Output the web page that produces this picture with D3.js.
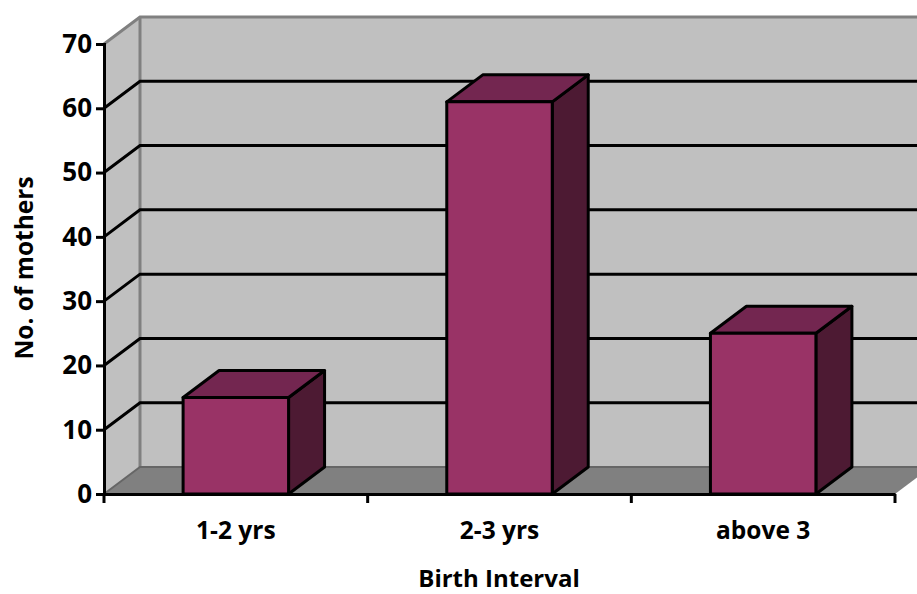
<!DOCTYPE html>
<html>
<head>
<meta charset="utf-8">
<script src="https://cdn.jsdelivr.net/npm/d3@7"></script>
<style>
html,body{margin:0;padding:0;background:#fff}
svg{display:block}
text{font-family:"Open Sans",sans-serif;font-weight:700;fill:#000}
</style>
</head>
<body>
<svg id="chart" width="917" height="594"></svg>
<script>
const categories = ["1-2 yrs", "2-3 yrs", "above 3"];
const mothers = [15, 61, 25];
const valueTicks = [0, 10, 20, 30, 40, 50, 60, 70];
const xTitle = "Birth Interval";
const yTitle = "No. of mothers";

const depthX = 36, depthY = -27;
const lineWidth = 3;
const svg = d3.select("#chart");

const x = d3.scaleBand().domain(categories).range([104, 895]).paddingInner(0.6).paddingOuter(0.3);
const y = d3.scaleLinear().domain([0, 70]).range([494, 44]);
const [x0, x1] = x.range();
const back = (px, py) => [px + depthX, py + depthY];
const poly = pts => pts.map(p => p.join(",")).join(" ");

// Walls and floor of the 3-D plot box
const g = svg.append("g");
g.append("polygon").attr("points", poly([[x0, y(70)], back(x0, y(70)), back(x0, y(0)), [x0, y(0)]]))
  .attr("fill", "#c0c0c0");
g.append("polygon").attr("points", poly([back(x0, y(70)), back(x1, y(70)), back(x1, y(0)), back(x0, y(0))]))
  .attr("fill", "#c0c0c0");
g.append("polygon").attr("points", poly([[x0, y(0)], [x1, y(0)], back(x1, y(0)), back(x0, y(0))]))
  .attr("fill", "#808080");

// Grey outline of the walls
g.append("polyline").attr("points", poly([[x0, y(70)], back(x0, y(70)), back(x1, y(70))]))
  .attr("fill", "none").attr("stroke", "#808080").attr("stroke-width", lineWidth);
g.append("line").attr("x1", back(x0, 0)[0]).attr("x2", back(x0, 0)[0])
  .attr("y1", back(x0, y(70))[1]).attr("y2", back(x0, y(0))[1])
  .attr("stroke", "#808080").attr("stroke-width", lineWidth);
g.append("polyline").attr("points", poly([[x0, y(0)], back(x0, y(0)), back(x1, y(0))]))
  .attr("fill", "none").attr("stroke", "#666").attr("stroke-width", 2);

// Gridlines run up the left wall and across the back wall
g.selectAll("polyline.grid").data(valueTicks.filter(v => v > 0 && v < 70)).join("polyline")
  .attr("class", "grid")
  .attr("points", v => poly([[x0, y(v)], back(x0, y(v)), back(x1, y(v))]))
  .attr("fill", "none").attr("stroke", "#000").attr("stroke-width", lineWidth);

// Extruded bars
const bars = svg.append("g").selectAll("g").data(categories).join("g");
const edge = sel => sel.attr("stroke", "#000").attr("stroke-width", lineWidth).attr("stroke-linejoin", "round");
bars.append("polygon").call(edge).attr("fill", "#4d1a33").attr("points", (c, i) => {
  const r = x(c) + x.bandwidth(), t = y(mothers[i]);
  return poly([[r, t], back(r, t), back(r, y(0)), [r, y(0)]]);
});
bars.append("polygon").call(edge).attr("fill", "#732650").attr("points", (c, i) => {
  const l = x(c), r = l + x.bandwidth(), t = y(mothers[i]);
  return poly([[l, t], [r, t], back(r, t), back(l, t)]);
});
bars.append("rect").call(edge).attr("fill", "#993366")
  .attr("x", c => x(c)).attr("width", x.bandwidth())
  .attr("y", (c, i) => y(mothers[i])).attr("height", (c, i) => y(0) - y(mothers[i]));

// Axes
const yAxis = d3.axisLeft(y).tickValues(valueTicks).tickSize(8).tickPadding(4);
const gy = svg.append("g").attr("transform", `translate(${x0},0)`).call(yAxis);
const xEdges = [x0, x0 + x.step(), x0 + 2 * x.step(), x1];
const xAxis = d3.axisBottom(x).tickSize(0).tickPadding(0);
const gx = svg.append("g").attr("transform", `translate(0,${y(0)})`).call(xAxis);
gx.selectAll("line.edge").data(xEdges).join("line").attr("class", "edge")
  .attr("x1", d => d).attr("x2", d => d).attr("y1", 0).attr("y2", 9);
gx.selectAll("text").attr("y", 45).attr("dy", 0);
for (const a of [gy, gx]) {
  a.select(".domain").attr("stroke", "#000").attr("stroke-width", lineWidth).attr("fill", "none");
  a.selectAll("line").attr("stroke", "#000").attr("stroke-width", lineWidth);
  a.selectAll("text").style("fill", "#000").style("font-family", "'Open Sans',sans-serif").style("font-weight", 700);
}
gy.selectAll("text").style("font-size", "26px");
gx.selectAll("text").style("font-size", "24.5px").attr("text-anchor", "middle");

// Axis titles
svg.append("text").attr("x", 499).attr("y", 586.5).attr("text-anchor", "middle")
  .style("font-size", "24px").text(xTitle);
svg.append("text").attr("transform", "translate(33,268) rotate(-90)").attr("text-anchor", "middle")
  .style("font-size", "24.5px").text(yTitle);
</script>
</body>
</html>
